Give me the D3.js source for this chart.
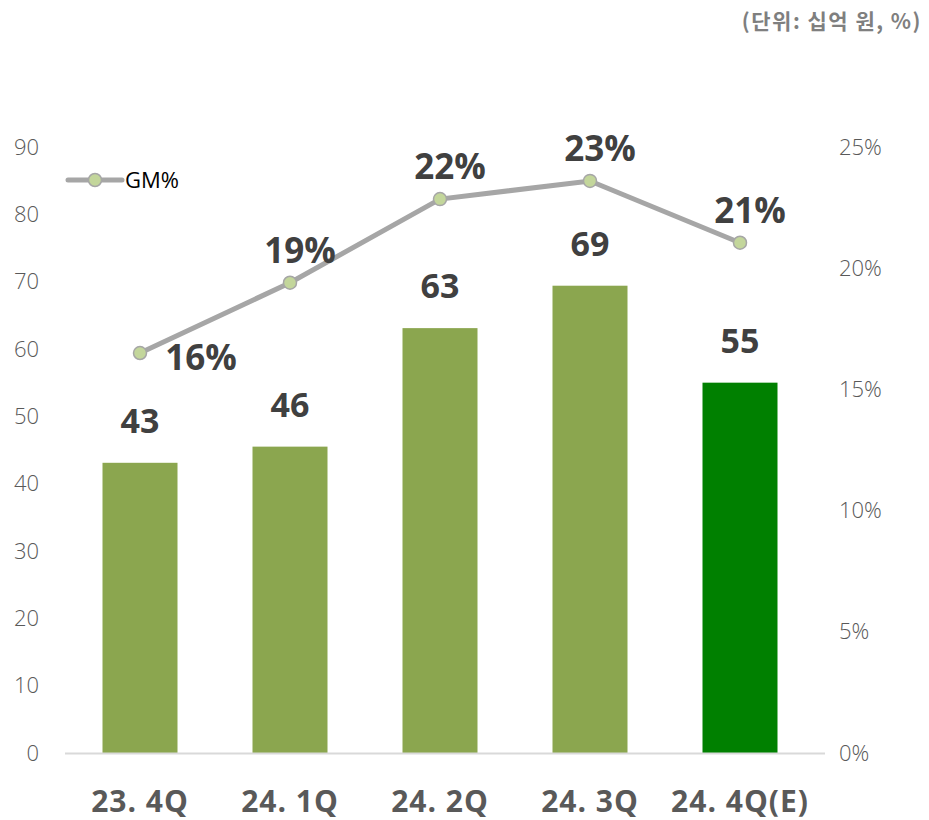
<!DOCTYPE html>
<html>
<head>
<meta charset="utf-8">
<script src="https://cdn.jsdelivr.net/npm/d3@7"></script>
<style>
  body { margin: 0; background: #fff; }
  text { font-family: "Noto Sans CJK KR", "Noto Sans", sans-serif; }
</style>
</head>
<body>
<svg width="929" height="820"></svg>
<script>
let categories = ["23. 4Q", "24. 1Q", "24. 2Q", "24. 3Q", "24. 4Q(E)"];
let sales = [43.1, 45.5, 63.1, 69.4, 55];
let salesLabels = ["43", "46", "63", "69", "55"];
let gm = [16.5, 19.4, 22.85, 23.6, 21.05];
let gmLabels = ["16%", "19%", "22%", "23%", "21%"];
let leftTicks = [0, 10, 20, 30, 40, 50, 60, 70, 80, 90];
let rightTicks = [0, 5, 10, 15, 20, 25];

let svg = d3.select("svg");

var xScale = d3.scaleBand()
  .domain(categories)
  .range([65, 815])
  .paddingInner(0.5)
  .paddingOuter(0.25);

var yLeft = d3.scaleLinear().domain([0, 90]).range([753, 147]);
var yRight = d3.scaleLinear().domain([0, 25]).range([753, 147]);

// unit note
svg.append("text")
  .attr("x", 922)
  .attr("y", 29)
  .attr("text-anchor", "end")
  .style("font-size", "21px")
  .style("font-weight", "bold")
  .style("letter-spacing", "1.5px")
  .style("fill", "#7f7f7f")
  .text("(단위: 십억 원, %)");

// left axis
svg.append("g")
  .attr("transform", "translate(39,0)")
  .call(d3.axisLeft(yLeft).tickValues(leftTicks).tickSize(0).tickPadding(0))
  .call(g => g.select(".domain").remove())
  .selectAll("text")
  .style("font-family", "'Open Sans', sans-serif")
  .style("font-size", "22px")
  .style("font-weight", "300")
  .style("fill", "#595959");

// right axis
svg.append("g")
  .attr("transform", "translate(839,0)")
  .call(d3.axisRight(yRight).tickValues(rightTicks).tickSize(0).tickPadding(0)
    .tickFormat(d => d + "%"))
  .call(g => g.select(".domain").remove())
  .selectAll("text")
  .style("font-family", "'Open Sans', sans-serif")
  .style("font-size", "22px")
  .style("font-weight", "300")
  .style("fill", "#595959");

// bars
svg.selectAll("rect.bar")
  .data(sales)
  .enter()
  .append("rect")
  .attr("class", "bar")
  .attr("x", (d, i) => xScale(categories[i]))
  .attr("width", xScale.bandwidth())
  .attr("y", d => yLeft(d))
  .attr("height", d => yLeft(0) - yLeft(d))
  .style("fill", (d, i) => i == 4 ? "#008000" : "#8ba64f");

// baseline
svg.append("line")
  .attr("x1", 65).attr("x2", 825)
  .attr("y1", yLeft(0) + 0.5).attr("y2", yLeft(0) + 0.5)
  .style("stroke", "#d9d9d9")
  .style("stroke-width", 2);

// bar labels
svg.selectAll("text.barlab")
  .data(sales)
  .enter()
  .append("text")
  .attr("class", "barlab")
  .attr("x", (d, i) => xScale(categories[i]) + xScale.bandwidth() / 2)
  .attr("y", d => yLeft(d) - 30)
  .attr("text-anchor", "middle")
  .style("font-family", "'Open Sans', sans-serif")
  .style("font-size", "34px")
  .style("font-weight", "bold")
  .style("fill", "#404040")
  .text((d, i) => salesLabels[i]);

// x labels
svg.selectAll("text.xlab")
  .data(categories)
  .enter()
  .append("text")
  .attr("class", "xlab")
  .attr("x", d => xScale(d) + xScale.bandwidth() / 2)
  .attr("y", 812)
  .attr("text-anchor", "middle")
  .style("font-family", "'Open Sans', sans-serif")
  .style("font-size", "30px")
  .style("font-weight", "bold")
  .style("letter-spacing", "1px")
  .style("fill", "#595959")
  .text(d => d);

// GM line
var line = d3.line()
  .x((d, i) => xScale(categories[i]) + xScale.bandwidth() / 2)
  .y(d => yRight(d));

svg.append("path")
  .datum(gm)
  .attr("d", line)
  .style("fill", "none")
  .style("stroke", "#a6a6a6")
  .style("stroke-width", 5);

svg.selectAll("circle.pt")
  .data(gm)
  .enter()
  .append("circle")
  .attr("class", "pt")
  .attr("cx", (d, i) => xScale(categories[i]) + xScale.bandwidth() / 2)
  .attr("cy", d => yRight(d))
  .attr("r", 6.5)
  .style("fill", "#c3d69b")
  .style("stroke", "#a6a6a6")
  .style("stroke-width", 1.5);

// GM labels
svg.selectAll("text.gmlab")
  .data(gm)
  .enter()
  .append("text")
  .attr("class", "gmlab")
  .attr("x", (d, i) => {
    let cx = xScale(categories[i]) + xScale.bandwidth() / 2;
    return i == 0 ? cx + 61 : cx + 10;
  })
  .attr("y", (d, i) => i == 0 ? yRight(d) + 17 : yRight(d) - 20)
  .attr("text-anchor", "middle")
  .style("font-family", "'Open Sans', sans-serif")
  .style("font-size", "35px")
  .style("font-weight", "bold")
  .style("fill", "#404040")
  .text((d, i) => gmLabels[i]);

// legend
let legend = svg.append("g").attr("transform", "translate(68,180)");
legend.append("line")
  .attr("x1", 0).attr("x2", 54)
  .attr("y1", 0).attr("y2", 0)
  .style("stroke", "#a6a6a6")
  .style("stroke-width", 5)
  .style("stroke-linecap", "round");
legend.append("circle")
  .attr("cx", 27).attr("cy", 0).attr("r", 6.5)
  .style("fill", "#c3d69b")
  .style("stroke", "#a6a6a6")
  .style("stroke-width", 1.5);
legend.append("text")
  .attr("x", 57).attr("y", 8)
  .style("font-family", "'Open Sans', sans-serif")
  .style("font-size", "22px")
  .style("fill", "#000")
  .text("GM%");
</script>
</body>
</html>
